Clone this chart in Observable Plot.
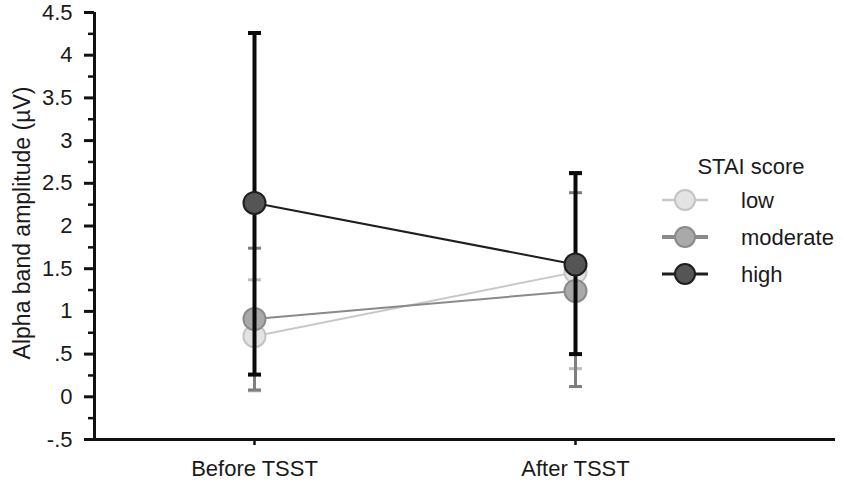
<!DOCTYPE html>
<html><head><meta charset="utf-8">
<script src="https://cdn.jsdelivr.net/npm/d3@7"></script>
<script src="https://cdn.jsdelivr.net/npm/@observablehq/plot@0.6"></script>
<style>
body{margin:0;background:#fff;}
#wrap{position:relative;width:843px;height:482px;font-family:"Liberation Sans",Arial,sans-serif;color:#1a1a1a;}
#wrap svg{overflow:visible;}
#legend{position:absolute;left:0;top:0;pointer-events:none;}
</style></head><body><div id="wrap"></div>
<script>
// ---- data ----
const categories = ["Before TSST", "After TSST"];
const groups = ["low", "moderate", "high"];
const meanLow = [0.71, 1.46];
const meanModerate = [0.91, 1.24];
const meanHigh = [2.27, 1.55];
const lowerLow = [0.07, 0.33];
const upperLow = [1.37, 2.61];
const lowerModerate = [0.08, 0.12];
const upperModerate = [1.74, 2.39];
const lowerHigh = [0.26, 0.50];
const upperHigh = [4.26, 2.62];
const yTickValues = [-0.5, 0, 0.5, 1, 1.5, 2, 2.5, 3, 3.5, 4, 4.5];
const yMinorTicks = [-0.25, 0.25, 0.75, 1.25, 1.75, 2.25, 2.75, 3.25, 3.75, 4.25];
const legendTitle = "STAI score";
const yLabel = "Alpha band amplitude (µV)";

// ---- styles ----
const styles = {
  low:      {line: "#c8c8c8", fill: "#e3e3e3", stroke: "#c4c4c4", err: "#bdbdbd", errW: 3, lineW: 2, legW: 2.5},
  moderate: {line: "#8a8a8a", fill: "#a9a9a9", stroke: "#8a8a8a", err: "#7e7e7e", errW: 3, lineW: 2, legW: 4},
  high:     {line: "#1e1e1e", fill: "#555555", stroke: "#1e1e1e", err: "#0a0a0a", errW: 4, lineW: 2, legW: 3}
};

const means = {low: meanLow, moderate: meanModerate, high: meanHigh};
const lowers = {low: lowerLow, moderate: lowerModerate, high: lowerHigh};
const uppers = {low: upperLow, moderate: upperModerate, high: upperHigh};
const rows = groups.flatMap(g => categories.map((c, i) => ({group: g, xi: i, mean: means[g][i], lo: lowers[g][i], hi: uppers[g][i]})));

const capSymbol = {draw(ctx, size) { const w = Math.sqrt(size / Math.PI); ctx.moveTo(-w, 0); ctx.lineTo(w, 0); }};
const fmt = d => d === 0 ? "0" : String(d).replace(/^(-?)0\./, "$1.");

const W = 843, H = 482, mL = 94, mR = 8, mT = 12, mB = 43;
const xPos = [254, 575];
const pxPerUnit = xPos[1] - xPos[0];
const xDomain = [-(xPos[0] - mL) / pxPerUnit, 1 + (W - mR - xPos[1]) / pxPerUnit];

const marks = [
  Plot.axisY(yMinorTicks, {tickSize: 6, tickFormat: () => "", strokeWidth: 2.5, stroke: "#111", label: null}),
  Plot.axisY(yTickValues, {tickSize: 10, tickPadding: 12, tickFormat: fmt, fontSize: 22, strokeWidth: 3, stroke: "#111", fill: "#1a1a1a", label: null}),
  Plot.axisX([0, 1], {tickSize: 6, tickPadding: 15, tickFormat: i => categories[i], fontSize: 22, strokeWidth: 2.5, stroke: "#111", fill: "#1a1a1a", label: null}),
  Plot.ruleY([-0.5], {stroke: "#111", strokeWidth: 3}),
  Plot.ruleX([xDomain[0]], {stroke: "#111", strokeWidth: 3}),
  Plot.text([yLabel], {frameAnchor: "left", textAnchor: "middle", lineAnchor: "middle", rotate: -90, dx: -72, dy: -3, fontSize: 23, fill: "#1a1a1a", text: d => d})
];
for (const g of groups) {
  const s = styles[g];
  const d = rows.filter(r => r.group === g);
  marks.push(
    Plot.line(d, {x: "xi", y: "mean", stroke: s.line, strokeWidth: s.lineW}),
    Plot.ruleX(d, {x: "xi", y1: "lo", y2: "hi", stroke: s.err, strokeWidth: s.errW}),
    Plot.dot(d, {x: "xi", y: "lo", symbol: capSymbol, r: 6.5, fill: "none", stroke: s.err, strokeWidth: s.errW}),
    Plot.dot(d, {x: "xi", y: "hi", symbol: capSymbol, r: 6.5, fill: "none", stroke: s.err, strokeWidth: s.errW}),
    Plot.dot(d, {x: "xi", y: "mean", r: 11, fill: s.fill, stroke: s.stroke, strokeWidth: 2})
  );
}

const chart = Plot.plot({
  width: W, height: H,
  marginLeft: mL, marginRight: mR, marginTop: mT, marginBottom: mB,
  style: {fontFamily: '"Liberation Sans", Arial, sans-serif', background: "#fff", color: "#111"},
  x: {type: "linear", domain: xDomain, axis: null},
  y: {domain: [-0.5, 4.5], axis: null},
  marks
});
const wrap = document.getElementById("wrap");
wrap.appendChild(chart);

// ---- legend ----
const leg = d3.select(wrap).append("svg").attr("id", "legend").attr("width", W).attr("height", H)
  .style("font-family", '"Liberation Sans", Arial, sans-serif');
leg.append("text").attr("x", 751).attr("y", 166).attr("dy", "0.35em").attr("text-anchor", "middle")
  .attr("font-size", 22).attr("fill", "#1a1a1a").text(legendTitle);
groups.forEach((g, i) => {
  const s = styles[g];
  const y = 200 + i * 37;
  leg.append("line").attr("x1", 662).attr("x2", 708).attr("y1", y).attr("y2", y).attr("stroke", s.line).attr("stroke-width", s.legW);
  leg.append("circle").attr("cx", 685).attr("cy", y).attr("r", 10).attr("fill", s.fill).attr("stroke", s.stroke).attr("stroke-width", 2);
  leg.append("text").attr("x", 741).attr("y", y).attr("dy", "0.35em").attr("font-size", 22).attr("fill", "#1a1a1a").text(g);
});
</script></body></html>
